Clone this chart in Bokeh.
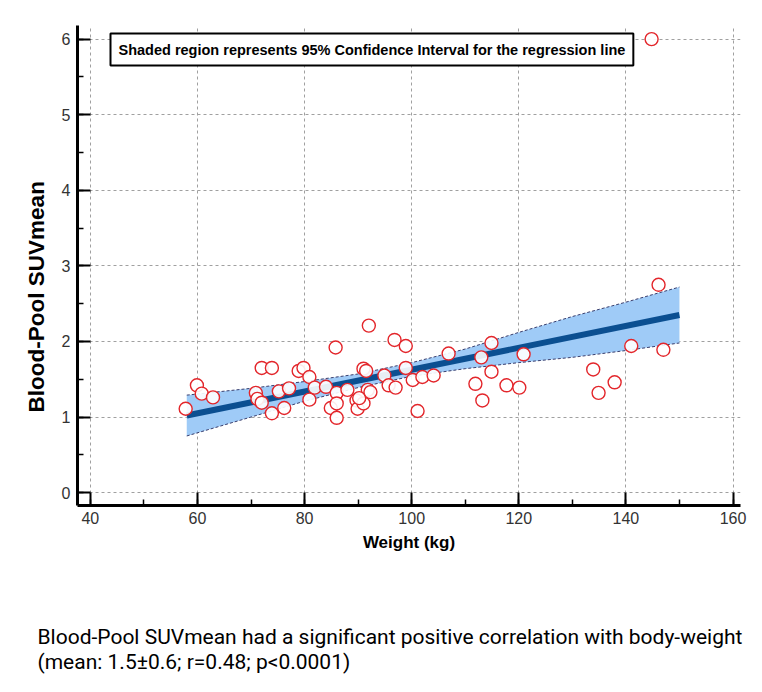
from bokeh.plotting import figure
from bokeh.models import Label, Title, SingleIntervalTicker, Range1d
from bokeh.embed import file_html
from bokeh.resources import INLINE

# scatter data: body weight (kg) vs blood-pool SUVmean
weight = [57.8, 59.9, 60.8, 62.9, 72.0, 73.9, 70.9, 71.2, 72.0, 73.9, 75.2, 76.2, 77.1,
          78.9, 79.8, 80.9, 80.9, 81.9, 84.0, 84.9, 85.8, 86.0, 86.0, 86.0, 88.0, 89.7,
          89.9, 91.0, 91.0, 91.8, 92.0, 94.9, 95.7, 96.8, 97.0, 98.9, 98.9, 100.2, 102.0,
          104.1, 101.1, 106.9, 111.9, 113.0, 113.2, 114.9, 114.9, 117.7, 120.1, 120.9,
          133.9, 134.9, 137.9, 141.0, 146.1, 147.0, 144.8, 90.2, 91.5, 92.3]
suv = [1.11, 1.42, 1.31, 1.26, 1.65, 1.65, 1.32, 1.24, 1.19, 1.05, 1.34, 1.12, 1.38,
       1.61, 1.65, 1.53, 1.23, 1.39, 1.40, 1.12, 1.92, 1.32, 1.18, 0.99, 1.36, 1.22,
       1.11, 1.64, 1.18, 1.36, 2.21, 1.55, 1.42, 2.02, 1.39, 1.94, 1.65, 1.49, 1.53,
       1.55, 1.08, 1.84, 1.44, 1.79, 1.22, 1.98, 1.60, 1.42, 1.39, 1.83,
       1.63, 1.32, 1.46, 1.94, 2.75, 1.89, 6.00, 1.25, 1.61, 1.33]

# regression line end points
reg_x = [58, 150]
reg_y = [1.02, 2.35]

# 95% confidence band
band_x = [58, 70, 80, 90, 100, 110, 120, 130, 140, 150]
band_upper = [1.29, 1.38, 1.47, 1.57, 1.72, 1.90, 2.12, 2.33, 2.52, 2.72]
band_lower = [0.75, 1.00, 1.21, 1.39, 1.54, 1.64, 1.72, 1.79, 1.88, 1.98]

x_label = "Weight (kg)"
y_label = "Blood-Pool SUVmean"
note = "Shaded region represents 95% Confidence Interval for the regression line"
caption = ("Blood-Pool SUVmean had a significant positive correlation with body-weight\n"
           "(mean: 1.5\u00b10.6; r=0.48; p<0.0001)")

p = figure(width=762, height=692, output_backend="svg", toolbar_location=None,
           x_range=Range1d(37.6, 161.4), y_range=Range1d(-0.17, 6.18),
           min_border_left=77, min_border_right=22, min_border_top=25,
           min_border_bottom=187)
p.outline_line_color = None
p.background_fill_color = "white"

# grid
for g in (p.xgrid, p.ygrid):
    g.grid_line_color = "#a0a0a0"
    g.grid_line_dash = "3 3"
    g.grid_line_width = 1

p.xaxis.ticker = SingleIntervalTicker(interval=20, num_minor_ticks=2)
p.yaxis.ticker = SingleIntervalTicker(interval=1, num_minor_ticks=2)
p.xgrid.ticker = p.xaxis.ticker
p.ygrid.ticker = p.yaxis.ticker

for ax in (p.xaxis, p.yaxis):
    ax.axis_line_width = 3
    ax.axis_line_color = "black"
    ax.major_tick_in = 13
    ax.major_tick_out = 0
    ax.minor_tick_in = 6
    ax.minor_tick_out = 0
    ax.major_tick_line_width = 2
    ax.minor_tick_line_width = 1.5
    ax.major_label_text_font = "Liberation Sans"
    ax.major_label_text_font_size = "16px"
    ax.major_label_text_color = "#333333"
    ax.axis_label_text_font = "Liberation Sans"
    ax.axis_label_text_font_style = "bold"
    ax.axis_label_text_color = "black"

p.xaxis.axis_label = x_label
p.xaxis.axis_label_text_font_size = "17px"
p.xaxis.major_label_standoff = 6
p.xaxis.axis_label_standoff = 6
p.yaxis.major_label_standoff = 7
# trailing no-break spaces shift the centred, rotated title down the axis
p.yaxis.axis_label = y_label + "\u00a0" * 10
p.yaxis.axis_label_text_font_size = "22.5px"
p.yaxis.axis_label_standoff = 10

# confidence band
p.varea(x=band_x, y1=band_lower, y2=band_upper, fill_color="#9fcbf7", fill_alpha=1)
p.line(band_x, band_upper, line_color="#3a3f6e", line_width=1, line_dash="3 2")
p.line(band_x, band_lower, line_color="#3a3f6e", line_width=1, line_dash="3 2")

# regression line
p.line(reg_x, reg_y, line_color="#0b4f91", line_width=6)

# points
p.scatter(weight, suv, marker="circle", size=13, line_color="#e3262b",
          fill_color="white", fill_alpha=0.9, line_width=1.4)

lab = Label(x=33, y=472, x_units="screen", y_units="screen", text=note,
            anchor="top_left",
            text_font="Liberation Sans", text_font_size="14.5px", text_font_style="bold",
            text_color="black", border_line_color="black", border_line_width=2,
            background_fill_color="white", padding=8)
p.add_layout(lab)

spacer = Title(text=" ", text_font_size="46px")
p.add_layout(spacer, "below")
cap = Title(text=caption, text_font="Roboto", text_font_size="21px",
            text_font_style="normal", text_color="black", align="left", offset=-40,
            text_line_height=1.05)
p.add_layout(cap, "below")

open("out.html", "w").write(file_html(p, INLINE))
